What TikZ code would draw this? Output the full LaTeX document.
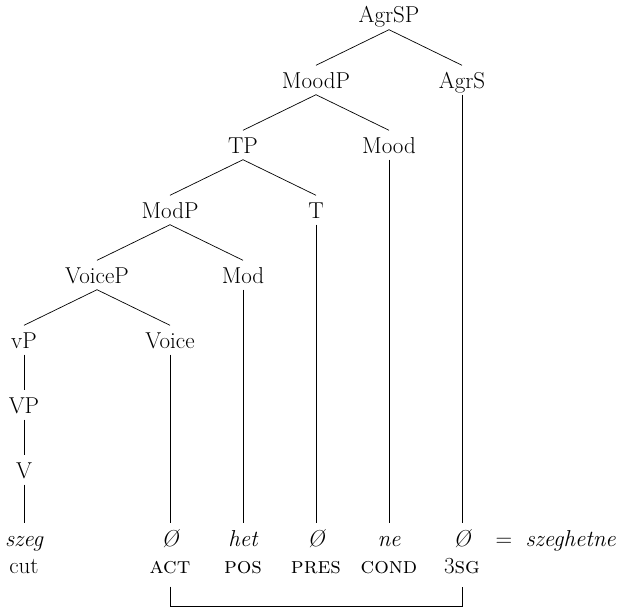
\documentclass[tikz,border=0pt]{standalone}
\usetikzlibrary{positioning}
\begin{document}
\begin{tikzpicture}[
    x=1pt, y=-1pt,
    cat/.style={inner sep=0pt, minimum height=29pt, text height=16pt, text depth=0pt, font=\fontsize{23}{27}\selectfont},
    wrd/.style={cat, font=\fontsize{23}{27}\selectfont\itshape},
    br/.style={line width=0.7pt}
]
\useasboundingbox (0,0) rectangle (617,610);
% tree
\node[cat] (agrsp) at (389,15) {AgrSP};
\node[cat] (moodp) at (316,80) {MoodP};
\node[cat] (agrs) at (462,80) {AgrS};
\node[cat] (tp) at (243,145) {TP};
\node[cat] (mood) at (389,145) {Mood};
\node[cat] (modp) at (170,210) {ModP};
\node[cat] (t) at (316,210) {T};
\node[cat] (voicep) at (97,275) {VoiceP};
\node[cat] (mod) at (243,275) {Mod};
\node[cat] (vp) at (24,340) {vP};
\node[cat] (voice) at (170,340) {Voice};
\node[cat] (vvp) at (24,405) {VP};
\node[cat] (v) at (24,470) {V};
% morphemes
\node[wrd] (szeg) at (24,538) {szeg};
\node[wrd] (act) at (170,538) {Ø};
\node[wrd] (het) at (243,538) {het};
\node[wrd] (pres) at (316,538) {Ø};
\node[wrd] (ne) at (389,538) {ne};
\node[wrd] (sg) at (462,538) {Ø};
\node[cat] (eq) at (504,538) {=};
\node[wrd, anchor=east] (full) at (616,538) {szeghetne};
% glosses
\node[cat] (gcut) at (24,565) {cut};
\node[cat] (gact) at (170,565) {\textsc{act}};
\node[cat] (gpos) at (243,565) {\textsc{pos}};
\node[cat] (gpres) at (316,565) {\textsc{pres}};
\node[cat] (gcond) at (389,565) {\textsc{cond}};
\node[cat] (gsg) at (462,565) {3\textsc{sg}};

\draw[br] (agrsp.south) -- (moodp.north);
\draw[br] (agrsp.south) -- (agrs.north);
\draw[br] (moodp.south) -- (tp.north);
\draw[br] (moodp.south) -- (mood.north);
\draw[br] (tp.south) -- (modp.north);
\draw[br] (tp.south) -- (t.north);
\draw[br] (modp.south) -- (voicep.north);
\draw[br] (modp.south) -- (mod.north);
\draw[br] (voicep.south) -- (vp.north);
\draw[br] (voicep.south) -- (voice.north);
\draw[br] (vp.south) -- (vvp.north);
\draw[br] (vvp.south) -- (v.north);
\draw[br] (v.south) -- (szeg.north);
\draw[br] (voice.south) -- (act.north);
\draw[br] (mod.south) -- (het.north);
\draw[br] (t.south) -- (pres.north);
\draw[br] (mood.south) -- (ne.north);
\draw[br] (agrs.south) -- (sg.north);
\draw[br] ([yshift=-7pt]gact.south) -- ++(0,20) -| ([yshift=-7pt]gsg.south);
\end{tikzpicture}
\end{document}
